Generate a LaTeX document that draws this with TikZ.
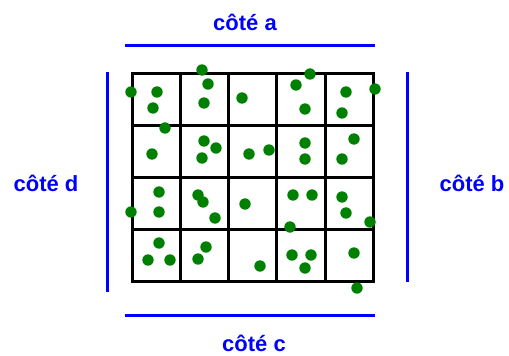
\documentclass[tikz,border=0pt]{standalone}
\usepackage{fontspec}
\setmainfont{Liberation Sans}
\definecolor{sideblue}{RGB}{0,0,255}
\definecolor{dotgreen}{RGB}{0,128,0}
\begin{document}
\begin{tikzpicture}[x=1pt,y=-1pt,
  side/.style={draw=sideblue,line width=3pt},
  lbl/.style={text=sideblue,font=\fontsize{22}{24}\selectfont\bfseries,inner sep=0pt},
  gridline/.style={draw=black,line width=3pt,line cap=rect},
  dot/.style={fill=dotgreen}]
\useasboundingbox (0,0) rectangle (509,356);
% grid
\foreach \x in {132,180,228,276,325,373} \draw[gridline] (\x,73) -- (\x,281);
\foreach \y in {73,125,177,229,281} \draw[gridline] (132,\y) -- (373,\y);
% sides
\coordinate (a1) at (125,45); \coordinate (a2) at (375,45);
\coordinate (c1) at (125,315); \coordinate (c2) at (375,315);
\coordinate (d1) at (107,72); \coordinate (d2) at (107,292);
\coordinate (b1) at (407,72); \coordinate (b2) at (407,282);
\draw[side] (a1) -- (a2);
\draw[side] (c1) -- (c2);
\draw[side] (d1) -- (d2);
\draw[side] (b1) -- (b2);
\node[lbl] (la) at (245,22) {côté a};
\node[lbl] (lc) at (254,343) {côté c};
\node[lbl] (ld) at (46,183) {côté d};
\node[lbl] (lb) at (472,183) {côté b};
% dots
\foreach \p in {
 (131,92),(157,92),(153,108),(202,70),(208,84),(204,103),(242,98),
 (310,74),(296,85),(305,109),(346,92),(375,89),(342,113),
 (165,128),(152,154),(204,141),(216,148),(202,158),(249,154),(269,150),
 (305,143),(305,159),(354,139),(342,159),
 (159,192),(159,212),(131,212),(198,195),(203,202),(215,218),(245,204),
 (293,195),(312,195),(342,197),(346,213),(370,222),(290,227),
 (159,243),(148,260),(170,260),(206,247),(198,259),(260,266),
 (292,255),(311,255),(305,268),(354,253),(357,288)}
  \fill[dot] \p circle (5.7);
\end{tikzpicture}
\end{document}
